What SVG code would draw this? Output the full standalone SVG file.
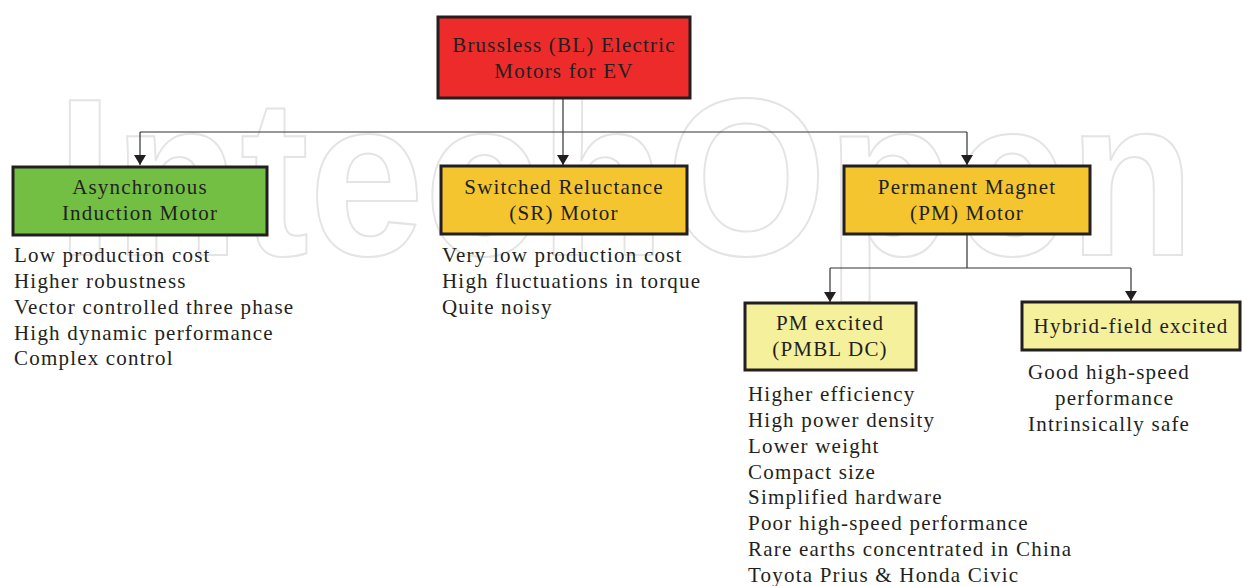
<svg xmlns="http://www.w3.org/2000/svg" width="1242" height="586" viewBox="0 0 1242 586">
<defs>
<style>
.box{stroke:#231f20;stroke-width:3}
.t{font-family:"Liberation Serif","Times New Roman",serif;font-size:21px;letter-spacing:1.2px;fill:#231f20}
.c{text-anchor:middle}
.ln{stroke:#333;stroke-width:1.2;fill:none}
.wm{font-family:"Liberation Sans",Arial,sans-serif;font-weight:bold;font-size:225px;fill:none;stroke:#e4e4e4;stroke-width:2}
</style>
<marker id="ah" viewBox="0 0 10 12" refX="10" refY="6" markerWidth="10" markerHeight="12" markerUnits="userSpaceOnUse" orient="auto">
<path d="M0,0 L10,6 L0,12 Z" fill="#231f20"/>
</marker>
</defs>
<rect width="1242" height="586" fill="#fff"/>
<text class="wm" x="56" y="255" textLength="1139" lengthAdjust="spacingAndGlyphs">IntechOpen</text>
<g id="connectors">
<path class="ln" d="M563,98 V132"/>
<path class="ln" d="M140,132 H967"/>
<path class="ln" d="M140,132 V165" marker-end="url(#ah)"/>
<path class="ln" d="M563,132 V165" marker-end="url(#ah)"/>
<path class="ln" d="M967,132 V165" marker-end="url(#ah)"/>
<path class="ln" d="M967,234 V268"/>
<path class="ln" d="M830,268 H1131"/>
<path class="ln" d="M830,268 V302" marker-end="url(#ah)"/>
<path class="ln" d="M1131,268 V301" marker-end="url(#ah)"/>
</g>
<g id="root">
<rect class="box" x="438" y="17" width="252" height="81" fill="#ed2b2b"/>
<text class="t c" x="564" y="52">Brussless (BL) Electric</text>
<text class="t c" x="564" y="78">Motors for EV</text>
</g>
<g id="induction">
<rect class="box" x="13" y="167" width="254" height="68" fill="#72bf44"/>
<text class="t c" x="140" y="194">Asynchronous</text>
<text class="t c" x="140" y="220">Induction Motor</text>
</g>
<g id="sr">
<rect class="box" x="441" y="166" width="246" height="68" fill="#f4c52f"/>
<text class="t c" x="564" y="194">Switched Reluctance</text>
<text class="t c" x="564" y="220">(SR) Motor</text>
</g>
<g id="pm">
<rect class="box" x="844" y="166" width="246" height="68" fill="#f4c52f"/>
<text class="t c" x="967" y="194">Permanent Magnet</text>
<text class="t c" x="967" y="220">(PM) Motor</text>
</g>
<g id="pmexcited">
<rect class="box" x="745" y="303" width="171" height="67" fill="#f5f09b"/>
<text class="t c" x="830" y="330">PM excited</text>
<text class="t c" x="830" y="356">(PMBL DC)</text>
</g>
<g id="hybrid">
<rect class="box" x="1022" y="302" width="218" height="48" fill="#f5f09b"/>
<text class="t c" x="1131" y="333">Hybrid-field excited</text>
</g>
<g id="induction-list" class="t">
<text x="14" y="262">Low production cost</text>
<text x="14" y="288">Higher robustness</text>
<text x="14" y="314">Vector controlled three phase</text>
<text x="14" y="340">High dynamic performance</text>
<text x="14" y="365">Complex control</text>
</g>
<g id="sr-list" class="t">
<text x="442" y="262">Very low production cost</text>
<text x="442" y="288">High fluctuations in torque</text>
<text x="442" y="314">Quite noisy</text>
</g>
<g id="pm-list" class="t">
<text x="748" y="401">Higher efficiency</text>
<text x="748" y="427">High power density</text>
<text x="748" y="453">Lower weight</text>
<text x="748" y="479">Compact size</text>
<text x="748" y="504">Simplified hardware</text>
<text x="748" y="530">Poor high-speed performance</text>
<text x="748" y="556">Rare earths concentrated in China</text>
<text x="748" y="582">Toyota Prius &amp; Honda Civic</text>
</g>
<g id="hybrid-list" class="t">
<text x="1028" y="379">Good high-speed</text>
<text x="1055" y="405">performance</text>
<text x="1028" y="431">Intrinsically safe</text>
</g>
</svg>
